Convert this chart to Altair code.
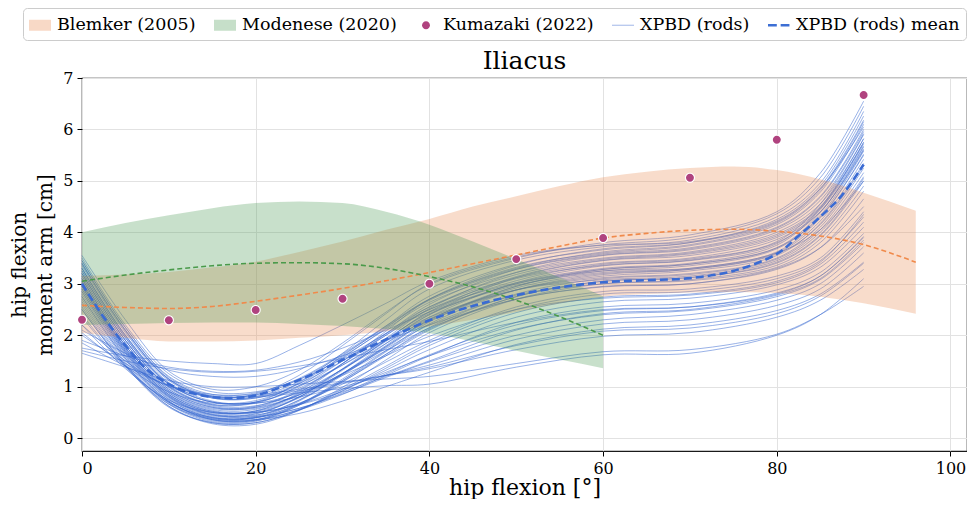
import altair as alt
import pandas as pd

# ---------------- data ----------------
SERIES = ["Blemker (2005)", "Modenese (2020)", "Kumazaki (2022)", "XPBD (rods)", "XPBD (rods) mean"]
LEGEND_COLORS = ["#f8d9c6", "#c6dfc9", "#b0437f", "#a9bdea", "#3d6fd4"]

ROD_X = [0, 5, 10, 15, 20, 25, 30, 35, 40, 50, 60, 70, 80, 85, 90]

RODS_GROUP_A = [
    [3.55, 2.30, 1.30, 0.95, 1.00, 1.32, 1.85, 2.45, 2.98, 3.50, 3.80, 3.95, 4.40, 5.15, 6.55],
    [3.40, 2.10, 1.15, 0.80, 0.86, 1.22, 1.80, 2.42, 3.00, 3.52, 3.76, 3.90, 4.36, 5.06, 6.45],
    [3.20, 1.90, 1.00, 0.65, 0.70, 1.08, 1.65, 2.30, 2.90, 3.46, 3.72, 3.85, 4.30, 4.96, 6.35],
    [3.30, 2.00, 1.05, 0.70, 0.73, 1.06, 1.60, 2.18, 2.76, 3.38, 3.66, 3.80, 4.25, 4.90, 6.26],
    [3.00, 1.75, 0.85, 0.50, 0.53, 0.88, 1.45, 2.08, 2.70, 3.36, 3.68, 3.80, 4.20, 4.85, 6.18],
    [3.45, 2.15, 1.20, 0.85, 0.88, 1.16, 1.64, 2.18, 2.70, 3.32, 3.60, 3.74, 4.15, 4.78, 6.10],
    [3.10, 1.80, 0.92, 0.58, 0.60, 0.92, 1.45, 2.03, 2.60, 3.28, 3.58, 3.70, 4.10, 4.70, 6.00],
    [2.90, 1.65, 0.80, 0.45, 0.47, 0.80, 1.35, 1.94, 2.52, 3.22, 3.55, 3.66, 4.05, 4.62, 5.92],
    [3.35, 2.05, 1.12, 0.78, 0.80, 1.10, 1.58, 2.12, 2.64, 3.22, 3.50, 3.62, 4.00, 4.55, 5.82],
    [3.15, 1.85, 0.95, 0.60, 0.62, 0.94, 1.45, 2.00, 2.55, 3.18, 3.48, 3.60, 3.96, 4.50, 5.75],
    [2.75, 1.55, 0.72, 0.38, 0.40, 0.72, 1.25, 1.84, 2.40, 3.12, 3.45, 3.55, 3.90, 4.45, 5.68],
    [3.25, 1.95, 1.05, 0.70, 0.70, 1.00, 1.50, 2.04, 2.55, 3.12, 3.40, 3.50, 3.86, 4.40, 5.60],
]
RODS_GROUP_B = [
    [3.05, 1.75, 0.88, 0.52, 0.53, 0.84, 1.34, 1.90, 2.45, 3.06, 3.38, 3.48, 3.82, 4.55, 5.90],
    [2.85, 1.60, 0.75, 0.40, 0.42, 0.74, 1.25, 1.80, 2.35, 3.02, 3.35, 3.45, 3.78, 4.48, 5.82],
    [3.50, 2.20, 1.25, 0.90, 0.90, 1.14, 1.55, 2.03, 2.50, 3.02, 3.30, 3.40, 3.75, 4.45, 5.75],
    [3.10, 1.80, 0.92, 0.56, 0.56, 0.86, 1.34, 1.88, 2.40, 3.00, 3.28, 3.38, 3.70, 4.38, 5.66],
    [2.95, 1.68, 0.80, 0.44, 0.44, 0.74, 1.22, 1.78, 2.30, 2.95, 3.25, 3.35, 3.68, 4.33, 5.58],
    [3.30, 1.98, 1.06, 0.70, 0.70, 0.97, 1.42, 1.93, 2.42, 2.97, 3.22, 3.30, 3.62, 4.28, 5.50],
    [2.65, 1.48, 0.66, 0.32, 0.33, 0.64, 1.12, 1.68, 2.22, 2.88, 3.18, 3.28, 3.60, 4.22, 5.42],
    [3.00, 1.72, 0.85, 0.50, 0.50, 0.78, 1.24, 1.76, 2.28, 2.88, 3.15, 3.25, 3.55, 4.17, 5.34],
    [3.20, 1.90, 1.00, 0.64, 0.63, 0.90, 1.34, 1.84, 2.32, 2.88, 3.12, 3.20, 3.50, 4.10, 5.25],
    [2.80, 1.58, 0.72, 0.36, 0.36, 0.64, 1.09, 1.63, 2.15, 2.80, 3.10, 3.18, 3.48, 4.05, 5.16],
    [3.40, 2.10, 1.15, 0.80, 0.78, 1.02, 1.42, 1.90, 2.35, 2.88, 3.08, 3.15, 3.45, 4.00, 5.08],
    [2.90, 1.65, 0.78, 0.42, 0.40, 0.67, 1.12, 1.63, 2.12, 2.75, 3.05, 3.12, 3.40, 3.93, 5.00],
    [3.15, 1.85, 0.95, 0.60, 0.58, 0.84, 1.26, 1.74, 2.20, 2.78, 3.00, 3.08, 3.36, 3.87, 4.90],
    [2.60, 1.45, 0.62, 0.28, 0.27, 0.54, 0.99, 1.52, 2.05, 2.70, 3.00, 3.06, 3.32, 3.80, 4.80],
]
RODS_GROUP_C = [
    [3.00, 1.72, 0.84, 0.48, 0.45, 0.68, 1.05, 1.48, 1.90, 2.55, 2.85, 2.90, 3.15, 3.50, 4.40],
    [2.50, 1.40, 0.60, 0.30, 0.30, 0.55, 0.95, 1.40, 1.85, 2.50, 2.80, 2.85, 3.10, 3.45, 4.30],
    [3.30, 2.00, 1.08, 0.72, 0.68, 0.88, 1.22, 1.60, 1.98, 2.50, 2.72, 2.78, 3.02, 3.38, 4.20],
    [2.75, 1.55, 0.70, 0.36, 0.34, 0.56, 0.92, 1.32, 1.72, 2.35, 2.65, 2.72, 2.98, 3.32, 4.10],
    [2.35, 1.38, 0.66, 0.36, 0.36, 0.55, 0.85, 1.22, 1.60, 2.25, 2.55, 2.62, 2.88, 3.22, 3.98],
    [2.20, 1.35, 0.74, 0.50, 0.50, 0.65, 0.90, 1.20, 1.50, 2.10, 2.42, 2.50, 2.78, 3.10, 3.85],
    [2.95, 1.68, 0.82, 0.46, 0.42, 0.58, 0.86, 1.18, 1.48, 2.00, 2.30, 2.40, 2.68, 3.00, 3.72],
    [2.05, 1.40, 0.90, 0.68, 0.68, 0.80, 1.00, 1.22, 1.42, 1.92, 2.22, 2.30, 2.58, 2.90, 3.60],
    [2.50, 1.42, 0.70, 0.38, 0.36, 0.48, 0.72, 1.00, 1.28, 1.82, 2.12, 2.20, 2.48, 2.80, 3.42],
    [1.85, 1.40, 1.02, 0.85, 0.85, 0.95, 1.08, 1.22, 1.35, 1.72, 1.98, 2.05, 2.35, 2.68, 3.28],
    [1.65, 1.38, 1.12, 1.00, 1.00, 1.05, 1.10, 1.15, 1.20, 1.45, 1.68, 1.72, 2.02, 2.40, 2.95],
    [2.20, 1.50, 1.00, 0.80, 0.80, 0.88, 0.96, 1.02, 1.05, 1.38, 1.62, 1.65, 2.00, 2.40, 3.10],
]
RODS_GROUP_D = [
    [1.75, 1.60, 1.50, 1.45, 1.45, 1.80, 2.20, 2.62, 3.05, 3.55, 3.75, 3.82, 4.22, 4.85, 6.05],
    [1.90, 1.60, 1.38, 1.30, 1.32, 1.48, 1.75, 2.10, 2.45, 3.00, 3.25, 3.30, 3.60, 4.05, 5.00],
    [2.10, 1.65, 1.32, 1.20, 1.20, 1.35, 1.60, 1.90, 2.20, 2.70, 2.95, 3.00, 3.30, 3.70, 4.50],
    [1.70, 1.50, 1.35, 1.28, 1.30, 1.40, 1.55, 1.72, 1.88, 2.25, 2.50, 2.55, 2.80, 3.15, 3.90],
]
RODS_GROUP_E = [
    [3.25, 1.95, 1.02, 0.66, 0.68, 1.02, 1.56, 2.14, 2.70, 3.30, 3.62, 3.76, 4.18, 4.82, 6.15],
    [2.95, 1.70, 0.82, 0.46, 0.48, 0.80, 1.32, 1.90, 2.46, 3.14, 3.46, 3.58, 3.93, 4.48, 5.72],
    [3.38, 2.08, 1.14, 0.78, 0.78, 1.06, 1.50, 2.00, 2.50, 3.10, 3.36, 3.46, 3.80, 4.40, 5.62],
    [2.70, 1.52, 0.68, 0.34, 0.35, 0.66, 1.15, 1.70, 2.26, 2.95, 3.28, 3.38, 3.70, 4.30, 5.52],
    [3.05, 1.76, 0.88, 0.52, 0.52, 0.80, 1.26, 1.78, 2.30, 2.92, 3.20, 3.28, 3.58, 4.15, 5.30],
    [2.85, 1.62, 0.76, 0.40, 0.39, 0.66, 1.10, 1.60, 2.10, 2.75, 3.05, 3.12, 3.42, 3.95, 5.05],
    [3.20, 1.90, 0.98, 0.62, 0.60, 0.84, 1.25, 1.70, 2.14, 2.70, 2.94, 3.00, 3.28, 3.70, 4.65],
    [2.55, 1.42, 0.62, 0.30, 0.30, 0.54, 0.92, 1.36, 1.80, 2.44, 2.74, 2.80, 3.05, 3.42, 4.35],
    [2.40, 1.40, 0.70, 0.40, 0.40, 0.58, 0.88, 1.25, 1.62, 2.20, 2.48, 2.55, 2.82, 3.15, 3.92],
    [3.10, 1.80, 0.90, 0.54, 0.50, 0.66, 0.95, 1.28, 1.60, 2.12, 2.40, 2.48, 2.75, 3.08, 3.80],
    [2.00, 1.45, 1.02, 0.82, 0.82, 0.92, 1.06, 1.22, 1.38, 1.80, 2.08, 2.14, 2.42, 2.76, 3.40],
    [3.45, 2.15, 1.18, 0.82, 0.84, 1.14, 1.62, 2.16, 2.68, 3.28, 3.56, 3.68, 4.08, 4.68, 5.96],
]

MEAN_X = [0, 2.5, 5, 7.5, 10, 12.5, 15, 17.5, 20, 25, 30, 35, 40, 45, 50, 55, 60, 65, 70, 75, 80, 82.5, 85, 87.5, 90]
MEAN_Y = [3.0, 2.35, 1.8, 1.33, 1.05, 0.88, 0.8, 0.78, 0.83, 1.13, 1.52, 1.92, 2.29, 2.57, 2.78, 2.93, 3.03, 3.07, 3.11, 3.25, 3.58, 3.93, 4.3, 4.72, 5.32]

BLEMKER_X = [0, 5, 10, 15, 20, 25, 30, 35, 40, 45, 50, 55, 60, 65, 70, 75, 80, 85, 90, 96]
BLEMKER_LO = [2.05, 1.95, 1.88, 1.88, 1.90, 1.95, 2.00, 2.08, 2.17, 2.30, 2.45, 2.62, 2.75, 2.80, 2.83, 2.84, 2.82, 2.75, 2.62, 2.42]
BLEMKER_HI = [3.15, 3.18, 3.23, 3.32, 3.43, 3.62, 3.82, 4.05, 4.26, 4.50, 4.70, 4.90, 5.07, 5.18, 5.25, 5.28, 5.21, 5.03, 4.77, 4.42]
BLEMKER_MEAN = [2.58, 2.54, 2.52, 2.56, 2.66, 2.78, 2.91, 3.06, 3.22, 3.39, 3.56, 3.73, 3.89, 3.98, 4.04, 4.06, 4.02, 3.93, 3.76, 3.42]

MODENESE_X = [0, 5, 10, 15, 20, 25, 30, 35, 40, 45, 50, 55, 60]
MODENESE_LO = [2.20, 2.22, 2.24, 2.25, 2.25, 2.22, 2.18, 2.12, 2.04, 1.88, 1.70, 1.53, 1.36]
MODENESE_HI = [4.00, 4.18, 4.33, 4.47, 4.57, 4.60, 4.57, 4.40, 4.15, 3.82, 3.48, 3.12, 2.76]
MODENESE_MEAN = [3.05, 3.17, 3.27, 3.35, 3.40, 3.41, 3.39, 3.30, 3.14, 2.94, 2.68, 2.36, 2.00]

KUMAZAKI_X = [0, 10, 20, 30, 40, 50, 60, 70, 80, 90]
KUMAZAKI_Y = [2.30, 2.29, 2.49, 2.71, 3.00, 3.48, 3.89, 5.06, 5.80, 6.67]

X_TICKS = [0, 20, 40, 60, 80, 100]
Y_TICKS = [0, 1, 2, 3, 4, 5, 6, 7]

# ---------------- tables ----------------
rod_rows = []
for gname, group in [("A", RODS_GROUP_A), ("B", RODS_GROUP_B), ("C", RODS_GROUP_C),
                     ("D", RODS_GROUP_D), ("E", RODS_GROUP_E)]:
    for i, yvals in enumerate(group):
        for xv, yv in zip(ROD_X, yvals):
            rod_rows.append({"rod": f"{gname}{i}", "x": xv, "y": yv})
rods_df = pd.DataFrame(rod_rows)
mean_df = pd.DataFrame({"x": MEAN_X, "y": MEAN_Y})
blem_df = pd.DataFrame({"x": BLEMKER_X, "y": BLEMKER_LO, "y2": BLEMKER_HI, "m": BLEMKER_MEAN})
mod_df = pd.DataFrame({"x": MODENESE_X, "y": MODENESE_LO, "y2": MODENESE_HI, "m": MODENESE_MEAN})
kum_df = pd.DataFrame({"x": KUMAZAKI_X, "y": KUMAZAKI_Y, "series": ["Kumazaki (2022)"] * len(KUMAZAKI_X)})

FONT = "DejaVu Serif"
RECT = "M-1,-0.5H1V0.5H-1Z"
DOT = "M-0.36,0A0.36,0.36 0 1,0 0.36,0A0.36,0.36 0 1,0 -0.36,0Z"
DOT_RING = "M-0.46,0A0.46,0.46 0 1,0 0.46,0A0.46,0.46 0 1,0 -0.46,0Z"
THIN = "M-1,-0.05H1V0.05H-1Z"
DASHED = "M-1,-0.12H-0.2V0.12H-1Z M0.15,-0.12H0.95V0.12H0.15Z"
LEGEND_SHAPES = [RECT, RECT, DOT, THIN, DASHED]

xs = alt.Scale(domain=[0, 101.9], nice=False, zero=False)
ys = alt.Scale(domain=[-0.25, 7], nice=False, zero=False)
X = alt.X("x:Q", scale=xs, axis=alt.Axis(values=X_TICKS, title="hip flexion [°]",
                                           titlePadding=1, titleFontSize=22, labelPadding=4))
Y = alt.Y("y:Q", scale=ys, axis=alt.Axis(values=Y_TICKS,
                                           title=["hip flexion", "moment arm [cm]"],
                                           titleFontSize=20, titlePadding=7, titleLineHeight=26,
                                           labelPadding=4))

LEG = alt.Legend(title=None, orient="none", legendX=-59, legendY=-70, direction="horizontal",
                 columns=5, symbolSize=484, labelFont=FONT, labelFontSize=17.5, labelColor="black",
                 labelOffset=6, columnPadding=18, padding=6, strokeColor="#cccccc",
                 fillColor="white", cornerRadius=4, symbolStrokeWidth=0, symbolOpacity=1,
                 labelLimit=400)

rods = alt.Chart(rods_df).mark_line(interpolate="catmull-rom", color="#2f62cf", opacity=0.55,
                                    strokeWidth=0.9).encode(x=X, y=Y, detail="rod:N")
blem_band = alt.Chart(blem_df).mark_area(interpolate="monotone", color="#e98a52", opacity=0.3).encode(
    x=X, y=Y, y2="y2:Q")
mod_band = alt.Chart(mod_df).mark_area(interpolate="monotone", color="#489852", opacity=0.3).encode(
    x=X, y=Y, y2="y2:Q")
blem_mean = alt.Chart(blem_df).mark_line(interpolate="monotone", color="#f08a4b", strokeWidth=1.6,
                                         strokeDash=[5, 3]).encode(x=X, y=alt.Y("m:Q", scale=ys))
mod_mean = alt.Chart(mod_df).mark_line(interpolate="monotone", color="#4a9a4a", strokeWidth=1.6,
                                       strokeDash=[5, 3]).encode(x=X, y=alt.Y("m:Q", scale=ys))
rod_mean = alt.Chart(mean_df).mark_line(interpolate="catmull-rom", color="#3a6bd3", strokeWidth=2.6,
                                        strokeDash=[8, 4]).encode(x=X, y=Y)
kum_ring = alt.Chart(kum_df).mark_point(filled=True, shape=DOT_RING, size=484, color="white",
                                        opacity=1, strokeWidth=0).encode(x=X, y=Y)
kum = alt.Chart(kum_df).mark_point(filled=True, size=484, opacity=1, strokeWidth=0).encode(
    x=X, y=Y,
    color=alt.Color("series:N", scale=alt.Scale(domain=SERIES, range=LEGEND_COLORS), legend=LEG),
    shape=alt.Shape("series:N", scale=alt.Scale(domain=SERIES, range=LEGEND_SHAPES), legend=LEG),
)

chart = alt.layer(rods, blem_band, mod_band, blem_mean, mod_mean, rod_mean, kum_ring, kum).properties(
    width=885, height=373,
    title=alt.TitleParams("Iliacus", font=FONT, fontSize=25, fontWeight="normal", color="black",
                          anchor="middle", offset=-66),
    autosize=alt.AutoSizeParams(type="none"),
    padding={"left": 74, "top": 70, "right": 0, "bottom": 48},
).configure_axis(
    labelFont=FONT, labelFontSize=16, labelColor="black",
    titleFont=FONT, titleFontWeight="normal", titleColor="black",
    tickColor="black", tickSize=5, tickWidth=1, domain=False,
    gridColor="#e2e2e2", gridWidth=1,
).configure_view(stroke="#1a1a1a", strokeWidth=1.2)

chart.save("out.html", embed_options={"renderer": "svg", "actions": False})
